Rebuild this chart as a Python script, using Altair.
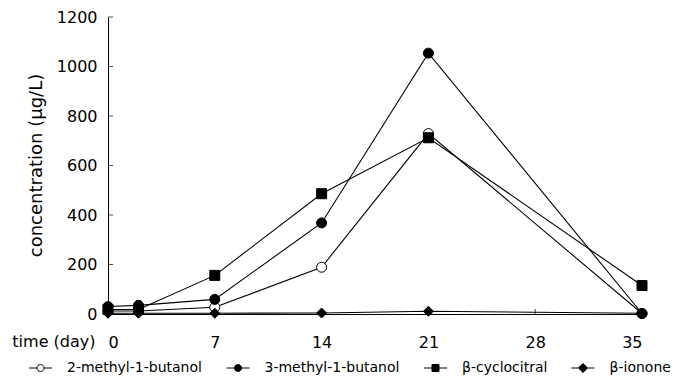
import altair as alt
import pandas as pd

# ---- data ----
days = [0, 2, 7, 14, 21, 35]
series_names = ["2-methyl-1-butanol", "3-methyl-1-butanol", "β-cyclocitral", "β-ionone"]
m2b = [12, 12, 27, 189, 729, 2]
m3b = [30, 35, 59, 368, 1054, 2]
cyc = [18, 18, 156, 486, 712, 115]
ion = [3, 3, 3, 4, 11, 3]
x_ticks = [0, 7, 14, 21, 28, 35]
y_ticks = [0, 200, 400, 600, 800, 1000, 1200]

plot_shapes = ["circle", "circle", "square", "diamond"]
fills = ["white", "black", "black", "black"]
strokes = ["black", "black", "black", "black"]
legend_shapes = [
    "M-3.3,0H-1M1,0H3.3M-1,0A1,1,0,1,0,1,0A1,1,0,1,0,-1,0Z",
    "M-3.3,0H-1M1,0H3.3M-1,0A1,1,0,1,0,1,0A1,1,0,1,0,-1,0Z",
    "M-3.3,0H-1M1,0H3.3M-1,-1H1V1H-1Z",
    "M-3.3,0H-1.3M1.3,0H3.3M-1.3,0L0,-1.3L1.3,0L0,1.3Z",
]

rows = []
for name, vals in zip(series_names, [m2b, m3b, cyc, ion]):
    for d, v in zip(days, vals):
        rows.append({"day": d, "value": v, "series": name})
df = pd.DataFrame(rows)

FONT = "DejaVu Sans"

x_enc = alt.X(
    "day:Q",
    scale=alt.Scale(domain=[0, 35], nice=False, zero=False),
    axis=alt.Axis(
        values=x_ticks, title="time (day)", grid=False, ticks=False,
        domainColor="black", domainWidth=1,
        labelFont=FONT, labelFontSize=16, labelColor="black", labelPadding=20,
        titleFont=FONT, titleFontSize=16, titleFontWeight="normal", titleColor="black",
        titleAlign="right", titleBaseline="alphabetic", titleX=-13, titleY=32,
        titleAngle=0,
    ),
)
y_enc = alt.Y(
    "value:Q",
    scale=alt.Scale(domain=[0, 1200], nice=False),
    axis=alt.Axis(
        values=y_ticks, format="d", title="concentration (μg/L)", grid=False, ticks=False,
        domainColor="black", domainWidth=1,
        labelFont=FONT, labelFontSize=16, labelColor="black", labelPadding=11,
        titleFont=FONT, titleFontSize=18, titleFontWeight="normal", titleColor="black",
        titleAngle=-90, titleAlign="center", titleBaseline="middle",
        titleX=-72, titleY=148,
    ),
)

base = alt.Chart(df)

lines = base.mark_line(color="black", strokeWidth=1.1).encode(
    x=x_enc, y=y_enc, detail="series:N", order="day:Q"
)

point_layers = []
for name, shp, fc in zip(series_names, plot_shapes, fills):
    point_layers.append(
        base.transform_filter(alt.datum.series == name)
        .mark_point(shape=shp, filled=True, fill=fc, stroke="black", strokeWidth=1, size=100, opacity=1)
        .encode(x="day:Q", y="value:Q")
    )

legend_layer = base.transform_filter("false").mark_point(
    filled=True, strokeWidth=1, size=49, opacity=1
).encode(
    x="day:Q",
    y="value:Q",
    shape=alt.Shape(
        "series:N",
        scale=alt.Scale(domain=series_names, range=legend_shapes),
        legend=alt.Legend(
            title=None, orient="none", direction="horizontal", columns=4,
            legendX=-80.5, legendY=344, padding=0,
            symbolSize=49, symbolStrokeWidth=1, symbolOffset=6,
            labelFont=FONT, labelFontSize=14, labelColor="black",
            labelOffset=19.5, columnPadding=21.5, symbolOpacity=1,
        ),
    ),
    fill=alt.Fill(
        "series:N",
        scale=alt.Scale(domain=series_names, range=fills),
        legend=alt.Legend(title=None),
    ),
    stroke=alt.Stroke(
        "series:N",
        scale=alt.Scale(domain=series_names, range=strokes),
        legend=alt.Legend(title=None),
    ),
)

xt = pd.DataFrame({"t": x_ticks[1:]})
x_tick_marks = alt.Chart(xt).mark_tick(color="black", thickness=1, size=5, orient="vertical").encode(
    x="t:Q", y=alt.datum(0), yOffset=alt.value(-2.5)
)
yt = pd.DataFrame({"t": y_ticks[1:]})
y_tick_marks = alt.Chart(yt).mark_tick(color="black", thickness=1, size=5, orient="horizontal").encode(
    y="t:Q", x=alt.datum(0), xOffset=alt.value(2.5)
)

chart = (
    alt.layer(lines, x_tick_marks, y_tick_marks, *point_layers, legend_layer)
    .properties(
        width=534, height=297,
        autosize=alt.AutoSizeParams(type="none"),
        padding={"left": 100, "top": 9, "right": 31, "bottom": 64},
        background="white",
    )
    .configure_view(stroke=None)
)

chart.save("out.html", embed_options={"renderer": "svg", "actions": False})
